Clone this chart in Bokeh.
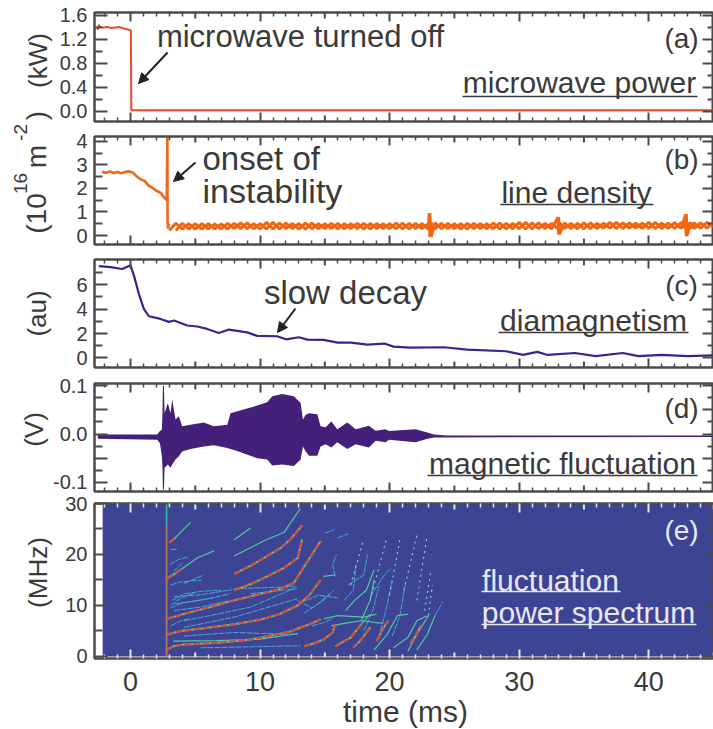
from bokeh.plotting import figure
from bokeh.layouts import column
from bokeh.models import Label, Arrow, NormalHead, LinearAxis, FixedTicker, Range1d
from bokeh.embed import file_html
from bokeh.resources import INLINE

# ---------- data ----------
a_t = [-2.55,-2.45,-2.3,-2.1,-1.8,-1.5,-1.2,-0.9,-0.6,-0.3,-0.1,0.03,0.06,0.12,3,10,20,30,40,45]
a_v = [1.36,1.44,1.41,1.40,1.41,1.39,1.40,1.41,1.39,1.37,1.36,1.35,0.02,0.02,0.02,0.02,0.02,0.02,0.02,0.02]

b_t0 = [-2.2,-1.9,-1.6,-1.3,-1.0,-0.7,-0.4,-0.1,0.2,0.5,0.8,1.1,1.4,1.7,2.0,2.3,2.6,2.8,2.84,2.86,2.9,2.95]
b_v0 = [2.70,2.66,2.72,2.65,2.70,2.64,2.70,2.72,2.66,2.50,2.38,2.32,2.12,2.02,1.90,1.82,1.62,1.50,4.2,0.60,0.30,0.50]
b_t1 = [3.0,3.5,4.0,4.5,5.0,5.5,6.0,6.5,7.0,7.5,8.0,8.5,9.0,9.5,10.0,10.5,11.0,11.5,12.0,12.5,13.0,13.5,14.0,14.5,15.0,15.5,16.0,16.5,17.0,17.5,18.0,18.5,19.0,19.5,20.0,20.5,21.0,21.5,22.0,22.5,23.0,23.05,23.1,23.2,23.5,24.0,24.5,25.0,25.5,26.0,26.5,27.0,27.5,28.0,28.5,29.0,29.5,30.0,30.5,31.0,31.5,32.0,32.5,33.0,33.05,33.1,33.5,34.0,34.5,35.0,35.5,36.0,36.5,37.0,37.5,38.0,38.5,39.0,39.5,40.0,40.5,41.0,41.5,42.0,42.5,42.85,42.9,42.95,43.2,43.5,44.0,44.5,45.0]
b_v1 = [0.22,0.52,0.28,0.50,0.27,0.51,0.29,0.49,0.28,0.52,0.30,0.54,0.29,0.50,0.28,0.56,0.28,0.53,0.30,0.51,0.27,0.53,0.29,0.50,0.30,0.52,0.29,0.50,0.30,0.52,0.28,0.51,0.30,0.50,0.29,0.53,0.28,0.52,0.30,0.50,0.28,0.95,-0.05,0.54,0.29,0.52,0.30,0.50,0.28,0.52,0.30,0.50,0.29,0.53,0.28,0.52,0.29,0.56,0.28,0.54,0.30,0.52,0.28,0.78,0.05,0.54,0.30,0.52,0.29,0.54,0.30,0.52,0.32,0.56,0.30,0.54,0.32,0.52,0.31,0.56,0.30,0.53,0.31,0.55,0.30,0.90,-0.02,0.56,0.30,0.54,0.32,0.56,0.36]

c_t = [-2.45,-1.54,-0.64,0.0,0.26,0.64,1.03,1.42,2.32,2.96,3.35,4.38,5.15,5.92,6.82,7.6,9.0,9.78,11.3,12.0,13.0,13.65,14.9,16.0,17.0,18.3,19.6,20.3,21.6,24.2,26.0,29.0,30.3,31.4,32.2,34.3,35.9,38.0,39.2,41.0,43.0,45.0]
c_v = [7.53,7.45,7.29,7.59,6.77,5.26,4.03,3.42,3.2,2.96,3.07,2.66,2.58,2.38,2.05,2.33,2.1,1.81,1.78,1.53,1.7,1.5,1.48,1.26,1.26,1.1,1.18,0.93,0.85,0.88,0.68,0.55,0.25,0.5,0.25,0.41,0.15,0.41,0.15,0.25,0.15,0.22]

d_t = [-2.52,2.06,2.27,2.42,2.47,2.50,2.58,2.63,2.88,3.09,3.22,3.47,3.73,3.99,4.63,5.66,6.43,7.47,7.72,8.11,9.78,10.55,10.94,11.71,12.61,13.13,13.31,13.52,13.78,14.42,14.67,15.06,15.5,15.96,16.73,17.38,18.4,18.92,19.69,19.95,22.01,22.91,23.42,24.45,45.0]
d_up = [-.001,-.001,.006,.009,.045,.100,.100,.043,.064,.043,.072,.030,.037,.016,.019,.024,.016,.019,.043,.046,.059,.066,.078,.083,.078,.064,.030,.040,.043,.041,.016,.014,.026,.010,.024,.010,.017,.007,.010,.006,.010,.003,-.001,-.003,-.003]
d_lo = [-.010,-.012,-.019,-.046,-.070,-.115,-.115,-.070,-.063,-.070,-.063,-.053,-.046,-.036,-.031,-.026,-.023,-.029,-.031,-.034,-.050,-.053,-.065,-.063,-.066,-.053,-.026,-.036,-.045,-.045,-.026,-.021,-.028,-.017,-.031,-.021,-.028,-.014,-.017,-.012,-.017,-.010,-.007,-.007,-.006]

e_bg = [-2.15, 46.0, 0.0, 30.2]
e_onset_t = [2.78, 2.78]
e_onset_f = [0.0, 30.0]
e_red_t = [[2.83,3.3,4.12,5.4,6.69,8.0,9.27,10.3,11.3,12.35,13.13,13.9,14.67],
           [2.83,3.86,5.5,8.0,10.0,11.5,12.9,13.8,14.67],
           [2.83,4.63,6.3,8.0,10.1,11.5,12.6,13.4,14.0,14.67],
           [8.0,9.3,10.55,11.8,12.9,13.25],
           [8.0,9.3,10.55,11.6,12.35,13.25],
           [2.83,3.4,3.86],
           [3.0,3.25,3.5],
           [13.4,14.2,14.9,15.6,15.8],
           [17.2,17.7,18.0,18.5],
           [15.8,16.5,17.0,17.8],
           [19.0,19.5,19.9],
           [21.6,22.0,22.4]]
e_red_f = [[1.33,2.0,2.33,2.5,2.67,3.0,3.33,3.8,4.33,4.9,5.67,6.4,7.3],
           [4.3,5.0,5.5,6.3,7.2,8.3,10.0,12.0,15.0],
           [7.4,8.7,9.8,11.0,12.3,13.2,14.4,17.6,20.0,22.6],
           [13.0,14.2,15.7,17.3,19.3,23.0],
           [16.2,17.8,19.7,21.3,23.0,25.7],
           [15.3,16.2,17.0],
           [22.3,22.8,23.4],
           [2.0,2.6,3.3,4.7,6.3],
           [1.7,3.0,4.0,5.7],
           [2.0,3.0,3.7,6.3],
           [3.0,5.5,7.0],
           [2.5,4.0,6.0]]
e_green_t = [[3.86,5.15,6.44],[3.5,4.63],[8.0,10.55,11.84,13.1],[8.0,9.27],[3.3,6.7,10.0,12.9],
             [14.9,15.8],[14.9,16.0,18.0,19.0],[15.8,17.0,17.8,18.5],[18.8,19.8,20.6,21.4],[20.3,21.4,22.1,22.9],
             [21.4,22.1,23.0],[22.1,22.9,23.5],[17.8,18.5,18.8],[16.6,17.3,18.2,18.8],[15.5,16.5,17.8,19.5]]
e_green_f = [[17.0,19.3,20.7],[23.4,26.3],[19.7,23.0,24.3,29.0],[22.9,25.2],[3.0,3.1,3.4,4.5],
             [15.7,16.0],[7.4,8.0,7.7,8.3],[2.0,3.7,6.3,8.3],[1.3,4.3,8.0,8.3],[1.7,3.7,7.0,8.0],
             [1.0,4.3,8.0],[1.3,4.3,8.0],[7.0,11.0,15.0],[9.0,11.0,13.0,17.0],[6.0,6.5,7.0,6.5]]
e_cyan_t = [[3.35,5.4,7.85],[3.35,5.4,7.7],[4.12,6.69,9.27,12.6],[4.12,7.97,12.87],[4.12,7.97,12.87],
            [5.4,9.27,13.13],[3.35,5.4,7.7],[4.12,5.67],[3.1,3.6],[3.35,4.0],[7.97,12.87],[9.27,12.87],
            [3.1,3.9,5.0],[3.1,3.8,5.5],[3.0,3.7,4.4],[12.9,14.0,14.9,15.7],[13.1,14.5,16.0],[14.0,15.0,15.6],
            [15.0,15.7],[16.0,16.8],[18.5,19.6,20.1],[19.3,19.8,20.2],[23.5,24.1],[15.8,15.6,15.9],[16.8,18.0,18.3],
            [13.4,14.3,15.5],[16.5,17.2,17.4],[3.1,4.0,5.2,6.4],[3.2,4.2,5.5,7.0],[3.1,3.9,4.6],[20.2,20.8,21.2],[18.0,18.7,19.2]]
e_cyan_f = [[11.7,12.1,13.1],[10.3,11.0,12.3],[7.0,8.3,9.7,13.3],[5.7,7.7,11.3],[4.0,4.7,4.3],
            [1.7,1.9,2.1],[9.0,9.7,11.0],[14.3,16.0],[21.0,21.0],[16.7,18.3],[13.3,13.7],[12.3,13.3],
            [10.0,11.5,12.5],[14.0,14.6,15.0],[18.0,19.0,19.5],[11.0,9.5,11.0,13.0],[10.5,12.0,11.5],[6.0,6.7,7.5],
            [24.2,24.8],[23.3,24.0],[11.7,16.0,17.3],[5.0,10.0,15.0],[8.0,10.7],[15.7,18.0,20.0],[14.0,16.0,20.0],
            [8.5,10.0,12.5],[11.0,13.0,18.0],[9.5,10.5,11.0,11.5],[11.0,12.3,12.8,13.0],[6.0,7.0,7.5],[4.0,8.0,14.0],[5.0,9.0,14.0]]
e_dot_t = [[21.1,22.1],[18.5,19.8],[22.1,22.9],[20.0,20.8],[22.7,23.2],[17.0,18.0],[23.0,23.3]]
e_dot_f = [[13.0,23.7],[11.0,23.5],[11.0,23.7],[12.0,23.0],[9.0,17.0],[14.0,23.0],[8.0,14.0]]

x_major = [0, 10, 20, 30, 40]
x_medium = [5, 15, 25, 35, 45]
x_minor = [-2,-1,1,2,3,4,6,7,8,9,11,12,13,14,16,17,18,19,21,22,23,24,26,27,28,29,31,32,33,34,36,37,38,39,41,42,43,44]
a_ticks = [0.0, 0.4, 0.8, 1.2, 1.6]; a_minor = [0.2, 0.6, 1.0, 1.4]
a_labels = {0.0: "0.0", 0.4: "0.4", 0.8: "0.8", 1.2: "1.2", 1.6: "1.6"}
b_ticks = [0, 1, 2, 3, 4]; b_minor = [0.5, 1.5, 2.5, 3.5]
c_ticks = [0, 2, 4, 6]; c_minor = [1, 3, 5, 7]
d_ticks = [-0.1, -0.05, 0.0, 0.05, 0.1]; d_minor = [-0.075, -0.025, 0.025, 0.075]
d_labels = {-0.1: "-0.1", -0.05: "", 0.0: "0.0", 0.05: "", 0.1: "0.1"}
e_ticks = [0, 10, 20, 30]; e_minor = [5, 15, 25]

# ---------- layout ----------
FONT = "Liberation Sans"
INK = "#3a3a3a"
FRAME = "#4a4a4a"
XR = (-2.78, 45.0)
LEFT, RIGHT = 94, 713
W, H = 713, 729


def make(top, bottom, ftop, fbot, yr, ticks, minor, labels=None, show_x=False, tickc=FRAME):
    p = figure(width=W, height=bottom - top, output_backend="svg", toolbar_location=None,
               x_range=Range1d(*XR), y_range=Range1d(*yr), min_border_left=LEFT,
               min_border_right=0, min_border_top=ftop - top, min_border_bottom=bottom - fbot,
               x_axis_type=None, y_axis_type=None, background_fill_color="white")
    p.grid.visible = False
    p.outline_line_color = FRAME
    p.outline_line_width = 2
    p._geom = (ftop, fbot, yr)

    def style_x(ax, lab):
        ax.ticker = FixedTicker(ticks=x_major, minor_ticks=x_minor)
        ax.major_tick_in, ax.major_tick_out = 9, 0
        ax.minor_tick_in, ax.minor_tick_out = 4, 0
        ax.major_tick_line_color = tickc
        ax.minor_tick_line_color = tickc
        ax.major_tick_line_width = 2
        ax.minor_tick_line_width = 1.5
        ax.axis_line_color = FRAME
        ax.axis_line_width = 2
        if lab:
            ax.major_label_text_font = FONT
            ax.major_label_text_font_size = "27px"
            ax.major_label_text_color = INK
            ax.major_label_standoff = 13
        else:
            ax.major_label_overrides = {t: "" for t in x_major}
            ax.major_label_standoff = 0

    def style_y(ax, lab, t_in, m_in):
        ax.ticker = FixedTicker(ticks=ticks, minor_ticks=minor)
        ax.major_tick_in, ax.major_tick_out = t_in, 0
        ax.minor_tick_in, ax.minor_tick_out = m_in, 0
        ax.major_tick_line_color = FRAME
        ax.minor_tick_line_color = FRAME
        ax.major_tick_line_width = 2
        ax.minor_tick_line_width = 2
        ax.axis_line_color = FRAME
        ax.axis_line_width = 2
        if lab:
            ax.major_label_text_font = FONT
            ax.major_label_text_font_size = "20px"
            ax.major_label_text_color = INK
            ax.major_label_standoff = 7
            if labels:
                ax.major_label_overrides = labels
        else:
            ax.major_label_overrides = {t: "" for t in ticks}
            ax.major_label_standoff = 0

    b = LinearAxis(); style_x(b, show_x); p.add_layout(b, "below")
    t = LinearAxis(); style_x(t, False); p.add_layout(t, "above")
    l = LinearAxis(); style_y(l, True, 13, 8); p.add_layout(l, "left")
    r = LinearAxis(); style_y(r, False, 11, 6); p.add_layout(r, "right")
    return p


def medium(p, color=FRAME):
    ftop, fbot, yr = p._geom
    ln = 6 * (yr[1] - yr[0]) / (fbot - ftop)
    n = len(x_medium)
    p.segment(x_medium, [yr[0]] * n, x_medium, [yr[0] + ln] * n, line_color=color, line_width=2)
    p.segment(x_medium, [yr[1]] * n, x_medium, [yr[1] - ln] * n, line_color=color, line_width=2)


# transparent sheet over the whole page for every annotation, in page pixels
ov = figure(width=W, height=H, output_backend="svg", toolbar_location=None,
            x_range=Range1d(0, W), y_range=Range1d(H, 0), x_axis_type=None, y_axis_type=None,
            min_border=0, background_fill_color=None, border_fill_color=None,
            outline_line_color=None, margin=(-H, 0, 0, 0), frame_align=False)
ov.grid.visible = False


def txt(px, py, s, size=30, color=INK, angle=0, align="center"):
    ov.add_layout(Label(x=px, y=py, text=s, text_font=FONT, text_font_size=f"{size}px",
                        text_color=color, text_align=align, text_baseline="middle",
                        angle=angle, angle_units="deg"))


def rule(x0, x1, py, color=INK):
    ov.add_layout(Arrow(x_start=x0, y_start=py, x_end=x1, y_end=py,
                        line_color=color, line_width=1.6, end=None))


def arrow(x0, y0, x1, y1):
    ov.add_layout(Arrow(x_start=x0, y_start=y0, x_end=x1, y_end=y1,
                        line_color="#222222", line_width=2,
                        end=NormalHead(size=10, fill_color="#222222", line_color="#222222")))


# (a)
pa = make(0, 128, 12, 121, (-0.167, 1.65), a_ticks, a_minor, labels=a_labels)
medium(pa)
pa.line(a_t, a_v, line_color="#ee4a26", line_width=2)
txt(300, 36, "microwave turned off", 31)
txt(681, 38, "(a)", 28)
txt(579, 82, "microwave power", 30)
rule(462, 697, 96)
arrow(167, 52, 138, 83)
txt(37, 60, "(kW)", 26, angle=90)

# (b)
pb = make(128, 251, 136, 244, (-0.378, 4.2), b_ticks, b_minor)
medium(pb)
pb.line(b_t0, b_v0, line_color="#f2651a", line_width=2.6)
pb.line(b_t1, b_v1, line_color="#f26511", line_width=3)
pb.line(b_t1[1:], b_v1[:-1], line_color="#f26511", line_width=3)
txt(202, 158, "onset of", 33, align="left")
txt(202, 190, "instability", 34, align="left")
txt(681, 159, "(b)", 28)
txt(576, 192, "line density")
rule(500, 653, 204)
arrow(195, 162, 173, 181)
txt(36, 213, "(10", 28, angle=90)
txt(20, 183, "16", 19, angle=90)
txt(36, 156, "m", 28, angle=90)
txt(20, 132, "-2", 19, angle=90)
txt(36, 115, ")", 28, angle=90)

# (c)
pc = make(251, 375, 259, 367, (-0.78, 8.07), c_ticks, c_minor)
medium(pc)
pc.line(c_t, c_v, line_color="#2e2a8c", line_width=2.2)
txt(345, 292, "slow decay", 33)
txt(681, 285, "(c)", 28)
txt(593, 320, "diamagnetism")
rule(498, 688, 332)
arrow(295, 308, 277, 332)
txt(36, 313, "(au)", 26, angle=90)

# (d)
pd_ = make(375, 493, 383, 491, (-0.119, 0.1046), d_ticks, d_minor, labels=d_labels)
medium(pd_)
pd_.varea(d_t, d_lo, d_up, fill_color="#45207a")
txt(681, 408, "(d)", 28)
txt(562, 463, "magnetic fluctuation")
rule(427, 697, 475)
txt(33, 429, "(V)", 26, angle=90)

# (e)
pe = make(493, 729, 503, 658, (-0.4, 30.0), e_ticks, e_minor, show_x=True, tickc="#e8e8e8")
pe.quad(left=[e_bg[0]], right=[e_bg[1]], bottom=[e_bg[2]], top=[e_bg[3]], fill_color="#3d4494", line_color=None)
medium(pe, "#e8e8e8")
pe.line(e_onset_t, e_onset_f, line_color="#38c0b0", line_width=1.5)
pe.line(e_onset_t, [e_onset_f[0], 25.5], line_color="#e6583a", line_width=1.5, line_dash="4 2")
pe.multi_line(e_cyan_t, e_cyan_f, line_color="#45a8d8", line_width=1.0, line_dash="6 1")
pe.multi_line(e_dot_t, e_dot_f, line_color="#8fd0ea", line_width=1.1, line_dash="2 4")
pe.multi_line(e_green_t, e_green_f, line_color="#55c8a0", line_width=1.2)
pe.multi_line(e_red_t, e_red_f, line_color="#55c8a0", line_width=2)
pe.multi_line(e_red_t, e_red_f, line_color="#e04a2c", line_width=2, line_dash="7 2")
txt(681, 530, "(e)", 28, color="#e8e8f4")
txt(550, 580, "fluctuation", color="#e8e8f4")
rule(481, 620, 591, "#e8e8f4")
txt(588, 612, "power spectrum", color="#e8e8f4")
rule(481, 696, 624, "#e8e8f4")
txt(37, 572, "(MHz)", 26, angle=90)
txt(405, 711, "time (ms)", 30)

page = column(pa, pb, pc, pd_, pe, ov, spacing=0)
open("out.html", "w").write(file_html(page, INLINE))
